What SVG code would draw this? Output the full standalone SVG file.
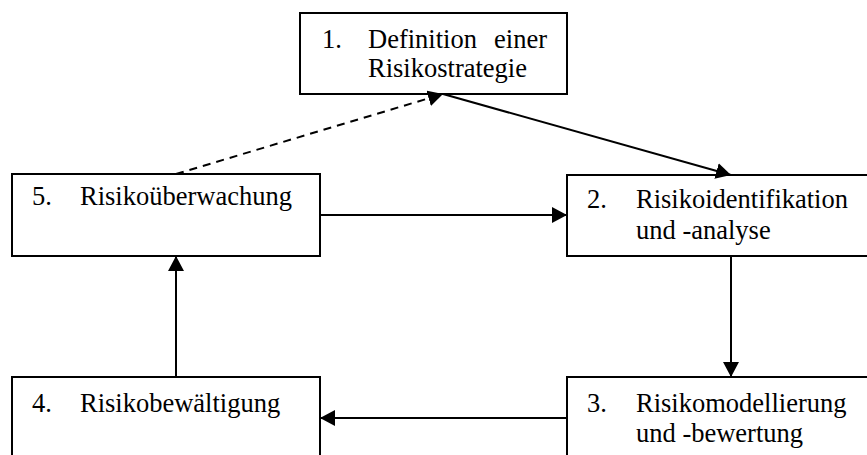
<svg xmlns="http://www.w3.org/2000/svg" width="867" height="455" viewBox="0 0 867 455">
<style>
.box{fill:#fff;stroke:#000;stroke-width:2}
.t{font-family:"Liberation Serif","Times New Roman",serif;font-size:26.5px;fill:#000}
.c{stroke:#000;stroke-width:2;fill:none}
.d{stroke:#000;stroke-width:2;fill:none;stroke-dasharray:8,6}
</style>
<defs>
<marker id="ah" markerWidth="15" markerHeight="16" refX="15" refY="8" orient="auto" markerUnits="userSpaceOnUse">
<path d="M0,0 L15,8 L0,16 Z" fill="#000"/>
</marker>
</defs>
<rect width="867" height="455" fill="#fff"/>
<g id="n1">
<rect class="box" x="300" y="13" width="267" height="81"/>
<text class="t"><tspan x="322" y="48">1.</tspan><tspan x="368" y="48">Definition</tspan><tspan x="547" y="48" text-anchor="end">einer</tspan><tspan x="368" y="77">Risikostrategie</tspan></text>
</g>
<g id="n2">
<rect class="box" x="567" y="175" width="320" height="81"/>
<text class="t"><tspan x="587" y="208">2.</tspan><tspan x="636" y="208">Risikoidentifikation</tspan><tspan x="636" y="239">und -analyse</tspan></text>
</g>
<g id="n3">
<rect class="box" x="567" y="377" width="320" height="100"/>
<text class="t"><tspan x="587" y="412">3.</tspan><tspan x="636" y="412">Risikomodellierung</tspan><tspan x="636" y="442">und -bewertung</tspan></text>
</g>
<g id="n4">
<rect class="box" x="12" y="377" width="308" height="100"/>
<text class="t"><tspan x="32" y="412">4.</tspan><tspan x="80" y="412">Risikobewältigung</tspan></text>
</g>
<g id="n5">
<rect class="box" x="12" y="174" width="308" height="82"/>
<text class="t"><tspan x="32" y="205">5.</tspan><tspan x="80" y="205">Risikoüberwachung</tspan></text>
</g>
<g id="connectors">
<line class="c" x1="443" y1="94" x2="731" y2="175" marker-end="url(#ah)"/>
<line class="c" x1="320" y1="215" x2="567" y2="215" marker-end="url(#ah)"/>
<line class="c" x1="731" y1="256" x2="731" y2="377" marker-end="url(#ah)"/>
<line class="c" x1="567" y1="418" x2="320" y2="418" marker-end="url(#ah)"/>
<line class="c" x1="176" y1="377" x2="176" y2="256" marker-end="url(#ah)"/>
<line class="d" x1="176" y1="174" x2="443" y2="94" marker-end="url(#ah)"/>
</g>
</svg>
